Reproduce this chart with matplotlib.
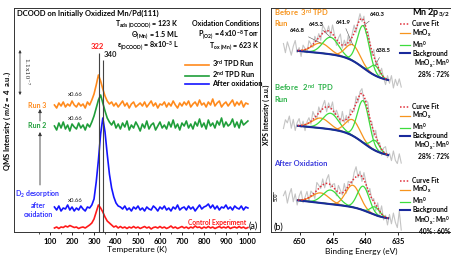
import numpy as np
import matplotlib.pyplot as plt

plt.rcParams['font.family'] = ['Lato', 'DejaVu Sans']
plt.rcParams['font.weight'] = 'bold'
plt.rcParams['mathtext.fontset'] = 'custom'
plt.rcParams['mathtext.rm'] = 'Lato:bold'
plt.rcParams['mathtext.bf'] = 'Lato:bold'
plt.rcParams['mathtext.it'] = 'Lato:bold:italic'
plt.rcParams['mathtext.default'] = 'bf'

W, H = 452, 264

# ---- TPD, m/z = 4 (plot units, traces already stacked) ----
temps = np.arange(120, 1001, 10)
run3 = [127, 124, 129, 126, 130, 125, 128, 126, 131, 127,
        125, 129, 126, 128, 124, 130, 127, 132, 138, 147,
        157, 151, 143, 136, 131, 128, 130, 126, 129, 125,
        128, 131, 126, 129, 124, 128, 130, 125, 127, 129,
        126, 130, 125, 128, 131, 126, 129, 124, 128, 127,
        130, 125, 129, 126, 131, 127, 124, 129, 126, 130,
        127, 131, 125, 128, 130, 126, 132, 127, 129, 125,
        130, 127, 133, 126, 129, 131, 125, 128, 130, 126,
        129, 132, 126, 130, 127, 131, 125, 129, 128]
run2 = [106, 102, 109, 104, 110, 103, 107, 101, 108, 105,
        103, 109, 104, 107, 102, 108, 105, 110, 116, 124,
        132, 137, 129, 121, 114, 110, 107, 111, 104, 108,
        103, 109, 105, 111, 102, 107, 104, 110, 106, 101,
        108, 104, 111, 103, 107, 109, 102, 106, 110, 104,
        107, 103, 110, 105, 112, 104, 108, 102, 109, 106,
        111, 104, 108, 103, 110, 106, 113, 105, 109, 103,
        112, 106, 109, 104, 111, 107, 114, 105, 110, 106,
        108, 113, 105, 110, 104, 112, 107, 109, 111]
after_ox = [25, 22, 26, 21, 24, 23, 27, 22, 25, 21,
            24, 22, 26, 23, 21, 25, 24, 27, 33, 50,
            72, 98, 114, 100, 78, 58, 44, 35, 29, 26,
            25, 23, 26, 22, 24, 21, 25, 23, 26, 22,
            24, 21, 25, 23, 22, 26, 24, 21, 25, 23,
            26, 22, 24, 21, 25, 23, 27, 22, 24, 25,
            22, 26, 23, 25, 21, 24, 27, 23, 25, 26,
            28, 24, 27, 23, 26, 22, 25, 24, 27, 23,
            25, 22, 26, 24, 23, 26, 22, 25, 24]
control = [4, 5, 3.5, 5, 4.5, 6, 5, 6.5, 5.5, 4.5,
           5, 3.5, 4.5, 5, 4, 5.5, 7, 9, 13, 20,
           27, 24, 20, 15, 11, 9, 7, 5, 6, 4,
           5.5, 4, 5, 3.5, 5, 4, 5.5, 4, 5, 3.5,
           4.5, 5.5, 4, 5, 3, 4.5, 5, 4, 5.5, 4,
           5, 3.5, 4.5, 6, 4, 5, 3.5, 4.5, 5.5, 4,
           5, 3.5, 5, 4, 6, 4.5, 5, 3.5, 5, 4,
           5.5, 4, 5, 3.5, 4.5, 5.5, 4, 5, 4, 5.5,
           3.5, 4.5, 5, 4, 5.5, 4, 5, 3.5, 4.5]
tpd_peaks = [322, 340]
tpd_peak_tops = [179, 172]

# ---- XPS Mn 2p3/2 ----
peak_centres = [646.8, 645.3, 641.9, 640.3, 638.5]
peak_widths = [1.3, 1.2, 1.1, 0.9, 0.7]
peak_kind = ['MnOx', 'Mn0', 'MnOx', 'Mn0', 'Mn0']
amps_top = [10, 17, 16, 42, 10]
amps_mid = [10, 16, 16, 42, 10]
amps_bot = [10, 14, 22, 24, 8]
# background: base, step, centre, width, slope
bg_top = [151, 22, 640.3, 1.3, 0.6]
bg_mid = [76, 22, 640.3, 1.3, 0.6]
bg_bot = [13.5, 8, 639.5, 1.0, 0.75]
# raw data = fit + residuals
res_top = [6, -3, 8, 2, -5, 4, 10, -2, 3, -6,
           5, 1, -4, 7, 2, -3, 6, -1, 4, -5,
           8, 3, -2, 5, -4, 9, 2, -6, 4, 10,
           -3, 5, -2, 7, -5, 3, 8, -4, 2, 6,
           -3, 5, -6, 4, 1, -5, 7, -2, 3, -4,
           6, -1, -6, 4, -3, 5, -7, 2, -4, 3, -5]
res_mid = [-4, 5, 2, 9, -3, 6, -5, 3, 7, -2,
           4, -6, 2, 5, -3, 8, 1, -4, 6, -2,
           3, 7, -5, 4, -1, 8, -3, 5, 2, -4,
           9, -2, 4, -5, 6, 1, -3, 7, -4, 3,
           5, -6, 2, 8, -3, 4, -5, 6, -2, 3,
           -6, 4, 7, -3, 2, -5, 5, -4, -7, 3, -6]
res_bot = [3, 8, -4, 5, 11, -2, 6, -5, 4, 9,
           -3, 2, 7, -4, 5, 1, -6, 8, 3, -2,
           6, -4, 4, 9, -3, 2, 5, -5, 7, 3,
           -2, 8, -4, 5, 1, -3, 6, 10, -2, 4,
           -5, 7, 2, -4, 6, -1, 3, -6, 5, -3,
           8, -4, 2, -7, 4, -5, 6, -3, -8, 9, -10]
ratios = ['28% : 72%', '28% : 72%', '40% : 60%']

C_OR = '#ff8a1c'
C_GR = '#1f9e3a'
C_BL = '#1414ff'
C_RD = '#ff1a1a'
X_OR = '#f7941d'
X_GR = '#3ddc3d'
X_BG = '#1a2a9c'
X_FIT = '#e0303a'


def background(E, p):
    base, step, e0, w, slope = p
    return base + step / (1 + np.exp(-(E - e0) / w)) + slope * (E - 636.7)


def component(E, c, a, w):
    return a * np.exp(-0.5 * ((E - c) / w) ** 2)


def fx(x):
    return x / W


def fy(y):
    return 1 - y / H


fig = plt.figure(figsize=(W / 100, H / 100), dpi=100)
ax1 = fig.add_axes([fx(14), fy(232), 246 / W, 224 / H])
ax2 = fig.add_axes([fx(271), fy(232), 180 / W, 224 / H])

# ---------- (a) TPD ----------
lw_tpd = 1.2
l_ctrl, = ax1.plot(temps, control, color=C_RD, lw=lw_tpd)
l_b, = ax1.plot(temps, after_ox, color=C_BL, lw=lw_tpd, label='After oxidation')
l_2, = ax1.plot(temps, run2, color=C_GR, lw=lw_tpd, label=r'2$^{nd}$ TPD Run')
l_3, = ax1.plot(temps, run3, color=C_OR, lw=lw_tpd, label=r'3$^{rd}$ TPD Run')
ax1.vlines(tpd_peaks, 0, tpd_peak_tops, color='#444444', lw=0.8, zorder=5)
ax1.text(tpd_peaks[0] - 8, tpd_peak_tops[0] + 3, str(tpd_peaks[0]), color=C_RD,
         fontsize=5.5, ha='center', va='bottom')
ax1.text(tpd_peaks[1] + 2, tpd_peak_tops[1] + 2, str(tpd_peaks[1]), color='#222222',
         fontsize=5.5, ha='left', va='bottom')

ax1.set_xlim(-64, 1055)
ax1.set_ylim(0, 224)
ax1.set_xticks(range(100, 1001, 100))
ax1.set_xticks(range(50, 1001, 50), minor=True)
ax1.set_yticks([])
ax1.tick_params(axis='x', which='major', direction='out', length=2.5, width=0.6,
                labelsize=5.5, pad=1.5)
ax1.tick_params(axis='x', which='minor', direction='out', length=1.5, width=0.5)
ax1.set_xlabel('Temperature (K)', fontsize=6, labelpad=1)
for s in ax1.spines.values():
    s.set_linewidth(0.7)
    s.set_color('#333333')

ax1.legend(handles=[l_3, l_2, l_b], loc='upper left', bbox_to_anchor=(0.695, 0.775),
           frameon=False, fontsize=5.3, handlelength=3.3, handletextpad=0.4,
           labelspacing=0.0, borderpad=0, borderaxespad=0)

fig.text(fx(17), fy(13), 'DCOOD on Initially Oxidized Mn/Pd(111)', fontsize=5.5,
         ha='left', va='center')
for y, s in [(24, r'T$_{\mathregular{ads\ (DCOOD)}}$ = 123 K'),
             (35, r'$\Theta_{\mathregular{(Mn)}}$ = 1.5 ML'),
             (46, r'$\epsilon_{\mathregular{(DCOOD)}}$ = 8x10$^{-3}$ L')]:
    fig.text(fx(179), fy(y), s, fontsize=5.1, ha='right', va='center')
for y, s in [(24, 'Oxidation Conditions'),
             (35, r'P$_{\mathregular{(O2)}}$ = 4x10$^{-8}$ Torr'),
             (46, r'T$_{\mathregular{ox\ (Mn)}}$ = 623 K')]:
    fig.text(fx(259), fy(y), s, fontsize=5.1, ha='right', va='center')

for y in [95, 118, 201]:
    fig.text(fx(75), fy(y), 'x0.66', fontsize=4.3, ha='center', va='center',
             fontweight='normal', color='#222222')
fig.text(fx(37), fy(105), 'Run 3', color=C_OR, fontsize=5, ha='center', va='center')
fig.text(fx(37), fy(126), 'Run 2', color=C_GR, fontsize=5, ha='center', va='center')
fig.text(fx(38), fy(203), 'D$_2$ desorption\nafter\noxidation', color='#3333ff',
         fontsize=5, ha='center', va='center', linespacing=1.35)
fig.text(fx(217), fy(222), 'Control Experiment', color=C_RD, fontsize=4.8,
         ha='center', va='center')
fig.text(fx(253), fy(226), '(a)', fontsize=6.5, fontweight='normal',
         ha='center', va='center')

arrow = dict(arrowstyle='-|>', lw=0.6, color='#333333', mutation_scale=5,
             shrinkA=0, shrinkB=0)
ax1.annotate('', xy=(fx(40), fy(132)), xycoords='figure fraction',
             xytext=(fx(40), fy(185)), textcoords='figure fraction', arrowprops=arrow)
ax1.annotate('', xy=(fx(40), fy(109)), xycoords='figure fraction',
             xytext=(fx(40), fy(121)), textcoords='figure fraction', arrowprops=arrow)
ax1.annotate('', xy=(fx(20), fy(50)), xycoords='figure fraction',
             xytext=(fx(20), fy(95)), textcoords='figure fraction',
             arrowprops=dict(arrowstyle='<|-|>', lw=0.5, color='#333333',
                             mutation_scale=4, shrinkA=0, shrinkB=0))
fig.text(fx(26), fy(72), '1.1x10⁻⁷', family=['DejaVu Serif'], fontweight='normal',
         fontsize=4.5, rotation=-90, ha='center', va='center', color='#333333')
fig.text(fx(7), fy(121), r'QMS Intensity ( $\mathit{m/z}$ = 4  a.u.)', fontsize=5.5,
         rotation=90, ha='center', va='center')

# ---------- (b) XPS ----------
E_fit = np.linspace(650.3, 636.5, 200)
E_raw = np.linspace(652.5, 634.5, 61)
groups = [(amps_top, bg_top, res_top), (amps_mid, bg_mid, res_mid),
          (amps_bot, bg_bot, res_bot)]
legend_y = [0.945, 0.575, 0.245]
ratio_y = [68, 150, 225]
for gi, (amps, bgp, res) in enumerate(groups):
    fit_raw = background(E_raw, bgp) + sum(component(E_raw, c, a, w) for c, a, w
                                           in zip(peak_centres, amps, peak_widths))
    ax2.plot(E_raw, fit_raw + np.array(res), color='#c4c4c4', lw=0.8, zorder=1)
    bg = background(E_fit, bgp)
    hs = {}
    for c, a, w, k in zip(peak_centres, amps, peak_widths, peak_kind):
        col = X_OR if k == 'MnOx' else X_GR
        hs[k], = ax2.plot(E_fit, bg + component(E_fit, c, a, w), color=col, lw=0.9,
                          zorder=2)
    hbg, = ax2.plot(E_fit, bg, color=X_BG, lw=1.5, zorder=3)
    fit = bg + sum(component(E_fit, c, a, w) for c, a, w
                   in zip(peak_centres, amps, peak_widths))
    hfit, = ax2.plot(E_fit, fit, color=X_FIT, lw=1.1, ls=(0, (1, 1.2)), zorder=4)
    leg = ax2.legend([hfit, hs['MnOx'], hs['Mn0'], hbg],
                     ['Curve Fit', 'MnO$_x$', 'Mn$^0$', 'Background'],
                     loc='upper left', bbox_to_anchor=(0.717, legend_y[gi]),
                     frameon=False, fontsize=4.8, handlelength=1.5, handletextpad=0.3,
                     labelspacing=0.0, borderpad=0, borderaxespad=0)
    if gi < len(groups) - 1:
        ax2.add_artist(leg)
    fig.text(fx(450), fy(ratio_y[gi]), 'MnO$_x$: Mn$^0$\n' + ratios[gi], fontsize=4.8,
             ha='right', va='center', linespacing=1.1)
    if gi == 0:
        for (tx, ty), c, a in zip([(297, 31), (316, 24), (343, 22), (377, 15), (383, 51)],
                                  peak_centres, amps):
            ax2.annotate(f'{c}', xy=(c, background(np.array(c), bgp) + a),
                         xytext=(fx(tx), fy(ty)), textcoords='figure fraction',
                         fontsize=4.2, ha='center', va='center',
                         arrowprops=dict(arrowstyle='-', lw=0.4, color='#555555',
                                         shrinkA=1, shrinkB=0))

ax2.set_xlim(654.4, 626.9)
ax2.set_ylim(0, 224)
ax2.set_xticks([650, 645, 640, 635])
ax2.set_yticks([])
ax2.tick_params(axis='x', direction='out', length=2, width=0.6, labelsize=5.5, pad=2)
ax2.set_xlabel('Binding Energy (eV)', fontsize=6, labelpad=2)
for s in ax2.spines.values():
    s.set_linewidth(0.7)
    s.set_color('#333333')

fig.text(fx(274), fy(13), 'Before  3$^{rd}$ TPD', color=X_OR, fontsize=5.5,
         ha='left', va='center')
fig.text(fx(274), fy(24), 'Run', color=X_OR, fontsize=5.5, ha='left', va='center')
fig.text(fx(274), fy(88), 'Before   2$^{nd}$  TPD', color='#2db34a', fontsize=5.5,
         ha='left', va='center')
fig.text(fx(274), fy(99), 'Run', color='#2db34a', fontsize=5.5, ha='left',
         va='center')
fig.text(fx(274), fy(164), 'After Oxidation', color='#3b3bdd', fontsize=5.5,
         ha='left', va='center')
fig.text(fx(450), fy(13), r'Mn 2p$_{3/2}$', fontsize=6.5, ha='right', va='center')
fig.text(fx(274), fy(227), '(b)', fontsize=6.5, fontweight='normal',
         ha='left', va='center')
fig.text(fx(276), fy(197), '500', fontsize=3.5, rotation=90, ha='center',
         va='center', fontweight='normal')
ax2.plot([fx(273), fx(273)], [fy(192), fy(201)], transform=fig.transFigure,
         color='#333333', lw=0.5)
fig.text(fx(266), fy(115), 'XPS Intensity ( a.u.)', fontsize=5, rotation=90,
         ha='center', va='center')

fig.savefig('out.png', dpi=100)
